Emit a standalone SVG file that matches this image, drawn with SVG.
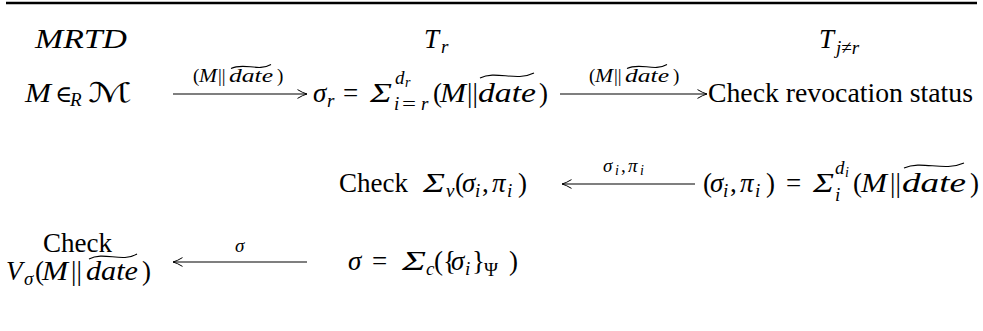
<svg xmlns="http://www.w3.org/2000/svg" width="983" height="331" viewBox="0 0 983 331">
<style>
text{fill:#000;font-family:'Liberation Serif','DejaVu Serif',serif}
.mi{font-style:italic;font-size:27px}
.rm{font-size:27px}
.smi{font-style:italic;font-size:19px}
.srm{font-size:19px}
.tmi{font-style:italic;font-size:14px}
.cal{font-family:'DejaVu Serif','DejaVu Sans',serif;font-style:italic;font-size:27px}
.sym{font-family:'DejaVu Serif','DejaVu Sans',serif;font-size:23px}
.tl{fill:none;stroke:#000;stroke-width:1.1}
.cn{stroke:#000;stroke-width:1.1;fill:none}
</style>
<defs>
<marker id="ah" viewBox="0 0 10 10" refX="10" refY="5" markerWidth="10" markerHeight="10" markerUnits="userSpaceOnUse" orient="auto">
<path d="M0.5,0.6 Q6,4 10,5 Q6,6 0.5,9.4" fill="none" stroke="#000" stroke-width="1"/>
</marker>
</defs>
<line x1="6" y1="3" x2="977" y2="3" stroke="#000" stroke-width="2.6"/>

<g id="hdr-mrtd"><text class="mi" x="35" y="48" textLength="92" lengthAdjust="spacingAndGlyphs">MRTD</text></g>
<g id="hdr-tr"><text class="mi" x="424" y="48">T</text><text class="smi" x="441" y="53">r</text></g>
<g id="hdr-tj"><text class="mi" x="819" y="48">T</text><text x="836" y="54"><tspan class="smi">j</tspan><tspan class="srm">≠</tspan><tspan class="smi">r</tspan></text></g>

<g id="n-m">
<text class="mi" x="25" y="102" textLength="26" lengthAdjust="spacingAndGlyphs">M</text>
<text class="sym" x="55" y="102">∈</text>
<text class="smi" x="70" y="106">R</text>
<text class="cal" x="88" y="102" textLength="44" lengthAdjust="spacingAndGlyphs">ℳ</text>
</g>

<g id="n-sigr">
<text class="mi" x="313" y="102">σ</text>
<text class="smi" x="327" y="107">r</text>
<text class="rm" x="343" y="102">=</text>
<text class="mi" x="370" y="102" textLength="22" lengthAdjust="spacingAndGlyphs">Σ</text>
<text class="smi" x="395" y="84">d</text><text class="tmi" x="405" y="87">r</text>
<text class="smi" x="394" y="110">i</text>
<text class="srm" x="402" y="110" textLength="14" lengthAdjust="spacingAndGlyphs">=</text>
<text class="smi" x="421" y="110">r</text>
<text class="rm" x="433" y="102">(</text>
<text class="mi" x="440" y="102" textLength="26" lengthAdjust="spacingAndGlyphs">M</text>
<text class="rm" x="467" y="102">||</text>
<text class="mi" x="478" y="102" textLength="58" lengthAdjust="spacingAndGlyphs">date</text>
<text class="rm" x="539" y="102">)</text>
<path class="tl" d="M480,78 C496,70 516,82 534,73"/>
</g>

<g id="n-checkrev"><text class="rm" x="708" y="102" textLength="265" lengthAdjust="spacingAndGlyphs">Check revocation status</text></g>

<g id="n-checksv">
<text class="rm" x="339" y="192">Check</text>
<text class="mi" x="423" y="192" textLength="22" lengthAdjust="spacingAndGlyphs">Σ</text>
<text class="smi" x="446" y="197">v</text>
<text class="rm" x="455" y="192">(</text>
<text class="mi" x="462" y="192">σ</text>
<text class="smi" x="475" y="197">i</text>
<text class="rm" x="482" y="192">,</text>
<text class="mi" x="492" y="192">π</text>
<text class="smi" x="507" y="197">i</text>
<text class="rm" x="518" y="192">)</text>
</g>

<g id="n-sigi">
<text class="rm" x="703" y="192">(</text>
<text class="mi" x="710" y="192">σ</text>
<text class="smi" x="723" y="197">i</text>
<text class="rm" x="730" y="192">,</text>
<text class="mi" x="740" y="192">π</text>
<text class="smi" x="755" y="197">i</text>
<text class="rm" x="766" y="192">)</text>
<text class="rm" x="786" y="192">=</text>
<text class="mi" x="813" y="192" textLength="21" lengthAdjust="spacingAndGlyphs">Σ</text>
<text class="smi" x="835" y="174">d</text><text class="tmi" x="845" y="177">i</text>
<text class="smi" x="835" y="201">i</text>
<text class="rm" x="853" y="192">(</text>
<text class="mi" x="861" y="192" textLength="26" lengthAdjust="spacingAndGlyphs">M</text>
<text class="rm" x="890" y="192">||</text>
<text class="mi" x="902" y="192" textLength="64" lengthAdjust="spacingAndGlyphs">date</text>
<text class="rm" x="970" y="192">)</text>
<path class="tl" d="M904,168 C922,160 944,172 964,163"/>
</g>

<g id="n-checkv">
<text class="rm" x="43" y="252">Check</text>
<text class="mi" x="6" y="280">V</text>
<text class="smi" x="24" y="285">σ</text>
<text class="rm" x="35" y="280">(</text>
<text class="mi" x="42" y="280" textLength="26" lengthAdjust="spacingAndGlyphs">M</text>
<text class="rm" x="71" y="280">||</text>
<text class="mi" x="86" y="280" textLength="52" lengthAdjust="spacingAndGlyphs">date</text>
<text class="rm" x="142" y="280">)</text>
<path class="tl" d="M89,259 C104,251 122,263 137,254"/>
</g>

<g id="n-sigma">
<text class="mi" x="348" y="270">σ</text>
<text class="rm" x="372" y="270">=</text>
<text class="mi" x="402" y="270" textLength="24" lengthAdjust="spacingAndGlyphs">Σ</text>
<text class="smi" x="426" y="275">c</text>
<text class="rm" x="434" y="270">(</text>
<text class="rm" x="443" y="270">{</text>
<text class="mi" x="451" y="270">σ</text>
<text class="smi" x="465" y="275">i</text>
<text class="rm" x="472" y="270">}</text>
<text class="srm" x="484" y="276">Ψ</text>
<text class="rm" x="509" y="270">)</text>
</g>

<g id="connectors">
<line class="cn" x1="173" y1="94" x2="307" y2="94" marker-end="url(#ah)"/>
<line class="cn" x1="560" y1="94" x2="707" y2="94" marker-end="url(#ah)"/>
<line class="cn" x1="695" y1="184" x2="562" y2="184" marker-end="url(#ah)"/>
<line class="cn" x1="307" y1="262" x2="173" y2="262" marker-end="url(#ah)"/>
<g id="lbl1">
<text class="srm" x="193" y="82">(</text>
<text class="smi" x="199" y="82" textLength="18" lengthAdjust="spacingAndGlyphs">M</text>
<text class="srm" x="218" y="82">||</text>
<text class="smi" x="229" y="82" textLength="44" lengthAdjust="spacingAndGlyphs">date</text>
<text class="srm" x="277" y="82">)</text>
<path class="tl" d="M231,68.5 C244,62 258,72 271,64.5"/>
</g>
<g id="lbl2">
<text class="srm" x="589" y="82">(</text>
<text class="smi" x="595" y="82" textLength="18" lengthAdjust="spacingAndGlyphs">M</text>
<text class="srm" x="614" y="82">||</text>
<text class="smi" x="625" y="82" textLength="44" lengthAdjust="spacingAndGlyphs">date</text>
<text class="srm" x="673" y="82">)</text>
<path class="tl" d="M627,68.5 C640,62 654,72 667,64.5"/>
</g>
<g id="lbl3">
<text class="smi" x="603" y="172">σ</text><text class="tmi" x="615" y="175">i</text>
<text class="srm" x="621" y="172">,</text>
<text class="smi" x="628" y="172">π</text><text class="tmi" x="640" y="175">i</text>
</g>
<g id="lbl4"><text class="smi" x="235" y="252">σ</text></g>
</g>
</svg>
